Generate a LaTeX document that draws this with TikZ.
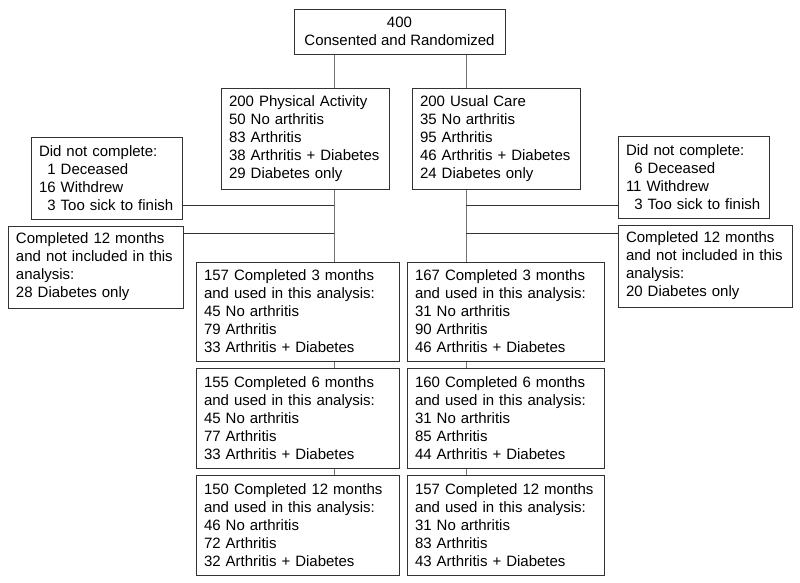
\documentclass[tikz,border=0pt]{standalone}
\usepackage{fontspec}
\setmainfont{Liberation Sans}
\newcommand{\boxfont}{\fontsize{15}{18}\selectfont\hyphenpenalty=10000\relax\exhyphenpenalty=10000\relax}
\begin{document}
\begin{tikzpicture}[x=1pt,y=-1pt,
  box/.style={draw=black!80, line width=1pt, inner xsep=8pt, inner ysep=2pt,
    font=\boxfont, align=left},
  vline/.style={draw=black!55, line width=1pt},
  hline/.style={draw=black!80, line width=1pt}]
\useasboundingbox (0,0) rectangle (800,582);
\newcommand{\bx}[6]{\node[box, minimum width=#3, minimum height=#4, text width=#3-16] (#5) at (#1,#2) {#6};}
% top
\node[box, align=center, minimum width=211, minimum height=45] (top) at (399.5,31.5) {400\\Consented and Randomized};
\bx{305}{138.5}{168}{101}{pa}{200 Physical Activity\\50 No arthritis\\83 Arthritis\\38 Arthritis + Diabetes\\29 Diabetes only}
\bx{496}{138.5}{168}{101}{uc}{200 Usual Care\\35 No arthritis\\95 Arthritis\\46 Arthritis + Diabetes\\24 Diabetes only}
\bx{106.5}{178}{151}{82}{dncL}{Did not complete:\\\phantom{1}1 Deceased\\16 Withdrew\\\phantom{1}3 Too sick to finish}
\bx{95.5}{267}{175}{82}{ctL}{Completed 12 months\\and not included in this\\analysis:\\28 Diabetes only}
\bx{693.5}{177}{151}{82}{dncR}{Did not complete:\\\phantom{1}6 Deceased\\11 Withdrew\\\phantom{1}3 Too sick to finish}
\bx{705}{266}{174}{82}{ctR}{Completed 12 months\\and not included in this\\analysis:\\20 Diabetes only}
\bx{297.5}{311.5}{203}{99}{lA}{157 Completed 3 months\\and used in this analysis:\\45 No arthritis\\79 Arthritis\\33 Arthritis + Diabetes}
\bx{505.5}{311.5}{197}{99}{rA}{167 Completed 3 months\\and used in this analysis:\\31 No arthritis\\90 Arthritis\\46 Arthritis + Diabetes}
\bx{297.5}{418}{203}{100}{lB}{155 Completed 6 months\\and used in this analysis:\\45 No arthritis\\77 Arthritis\\33 Arthritis + Diabetes}
\bx{505.5}{418}{197}{100}{rB}{160 Completed 6 months\\and used in this analysis:\\31 No arthritis\\85 Arthritis\\44 Arthritis + Diabetes}
\bx{297.5}{525}{203}{100}{lC}{150 Completed 12 months\\and used in this analysis:\\46 No arthritis\\72 Arthritis\\32 Arthritis + Diabetes}
\bx{505.5}{525}{197}{100}{rC}{157 Completed 12 months\\and used in this analysis:\\31 No arthritis\\83 Arthritis\\43 Arthritis + Diabetes}
% junctions
\coordinate (xl) at (334,0);
\coordinate (xr) at (466,0);
\coordinate (jL1) at (334,205);
\coordinate (jL2) at (334,233);
\coordinate (jR1) at (466,205);
\coordinate (jR2) at (466,233);
% vertical connectors
\draw[vline] (top.south -| xl) -- (pa.north -| xl);
\draw[vline] (top.south -| xr) -- (uc.north -| xr);
\draw[vline] (pa.south -| xl) -- (lA.north -| xl);
\draw[vline] (uc.south -| xr) -- (rA.north -| xr);
\draw[vline] (lA.south -| xl) -- (lB.north -| xl);
\draw[vline] (rA.south -| xr) -- (rB.north -| xr);
\draw[vline] (lB.south -| xl) -- (lC.north -| xl);
\draw[vline] (rB.south -| xr) -- (rC.north -| xr);
% horizontal connectors
\draw[hline] (jL1 -| dncL.east) -- (jL1);
\draw[hline] (jL2 -| ctL.east) -- (jL2);
\draw[hline] (jR1) -- (jR1 -| dncR.west);
\draw[hline] (jR2) -- (jR2 -| ctR.west);
\end{tikzpicture}
\end{document}
